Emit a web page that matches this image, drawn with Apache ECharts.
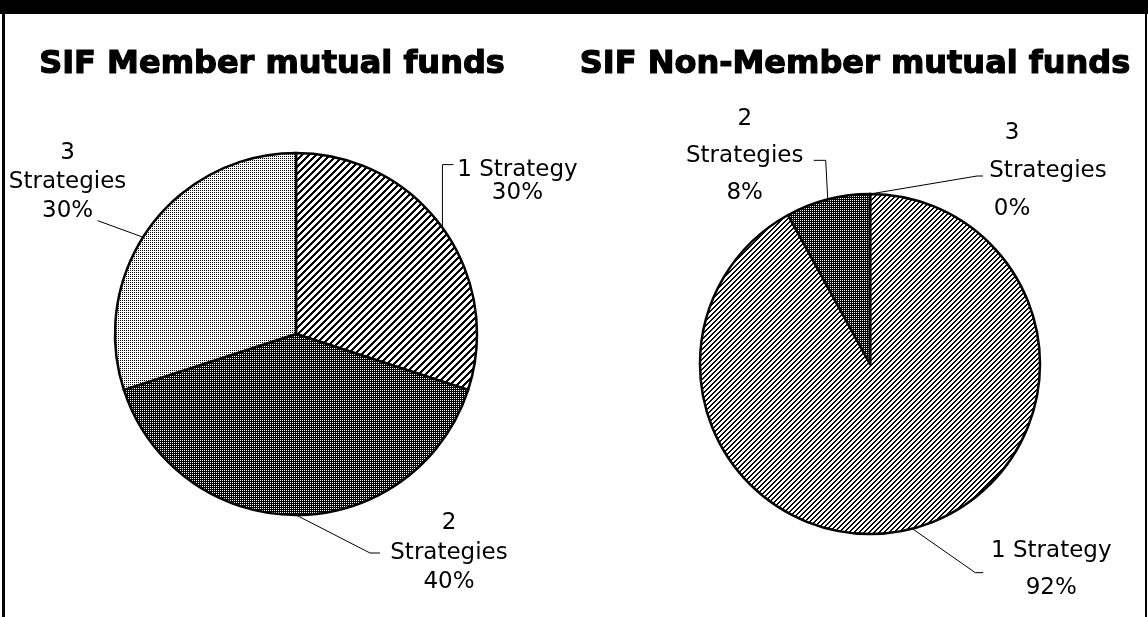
<!DOCTYPE html>
<html><head><meta charset="utf-8">
<script src="https://cdn.jsdelivr.net/npm/echarts@6/dist/echarts.min.js"></script>
<style>html,body{margin:0;padding:0;background:#fff}#c{width:1148px;height:617px}</style>
</head><body><div id="c"></div>
<script>
// ---- data ----
const categories = ['1 Strategy', '2 Strategies', '3 Strategies'];
const labelNames = ['1 Strategy', '2\nStrategies', '3\nStrategies'];
const memberValues = [30, 40, 30];
const nonMemberValues = [92, 8, 0];
const chartTitles = ['SIF Member mutual funds', 'SIF Non-Member mutual funds'];

// ---- patterns ----
function makePattern(size, fn) {
  const c = document.createElement('canvas');
  c.width = size; c.height = size;
  const ctx = c.getContext('2d');
  const img = ctx.createImageData(size, size);
  for (let y = 0; y < size; y++) for (let x = 0; x < size; x++) {
    const v = fn(x, y) ? 0 : 255;
    const i = (y * size + x) * 4;
    img.data[i] = img.data[i + 1] = img.data[i + 2] = v; img.data[i + 3] = 255;
  }
  ctx.putImageData(img, 0, 0);
  return { image: c, repeat: 'repeat' };
}
const hatchA = makePattern(7, (x, y) => ((x + y) % 7) < 3);
const hatchB = makePattern(5, (x, y) => ((x + y) % 5) < 2);
const darkDots = makePattern(4, (x, y) => !((x % 2 === 0 && y % 2 === 0)));
const lightDots = makePattern(4, (x, y) => (x % 2 === 0 && y % 2 === 0));

const FONT = 'DejaVu Sans';
const labelFontSize = 23;

// label placement relative to the slice's outer mid-arc point
const memberSpecs = [
  { dx: 75, dy: -46, align: 'center', lh: 23, line: [[0, -63], [11, -63]] },
  { dx: 153, dy: 38, align: 'center', lh: 29.5, line: [[74, 38], [84, 38]] },
  { dx: -82, dy: -46, align: 'center', lh: 29, line: [[-52, -7], [-52, -7]], start: [0, 12] }
];
const nonMemberSpecs = [
  { dx: 139, dy: 41, align: 'center', lh: 37, line: [[63, 44], [71, 44]] },
  { dx: -83, dy: -43, align: 'center', lh: 37, line: [[-2, -39], [-14, -39]] },
  { dx: 142, dy: -23, align: 'center', lh: 38, midPad: 72, line: [[107, -18], [113, -18]] }
];

function richFor(spec) {
  const base = { fontFamily: FONT, fontSize: labelFontSize, color: '#000', lineHeight: spec.lh };
  return { a: base, b: Object.assign({}, base, { padding: [0, 0, 0, spec.midPad || 0] }) };
}
function buildData(values, specs) {
  return categories.map((c, i) => ({ name: c, value: values[i], label: { rich: richFor(specs[i]) } }));
}
function formatter(p) {
  const parts = labelNames[p.dataIndex].split('\n');
  const pct = Math.round(p.percent) + '%';
  const lines = parts.map((s, k) => (parts.length > 1 && k === 1 ? '{b|' : '{a|') + s + '}');
  lines.push('{a|' + pct + '}');
  return lines.join('\n');
}
function layoutFor(specs) {
  return function (params) {
    const spec = specs[params.dataIndex];
    const pts = params.labelLinePoints;
    if (!pts) return {};
    const a = pts[0];
    const st = spec.start || [0, 0];
    return {
      x: a[0] + spec.dx,
      y: a[1] + spec.dy,
      align: spec.align,
      verticalAlign: 'middle',
      labelLinePoints: [[a[0] + st[0], a[1] + st[1]], [a[0] + spec.line[0][0], a[1] + spec.line[0][1]], [a[0] + spec.line[1][0], a[1] + spec.line[1][1]]]
    };
  };
}
function pieSeries(values, specs, center, radius, colors) {
  return {
    type: 'pie',
    center: center,
    radius: radius,
    startAngle: 90,
    clockwise: true,
    avoidLabelOverlap: false,
    animation: false,
    silent: true,
    data: buildData(values, specs).map((d, i) => Object.assign(d, { itemStyle: { color: colors[i] } })),
    itemStyle: { borderColor: '#000', borderWidth: 2.5 },
    label: { show: true, position: 'outside', formatter: formatter },
    labelLine: { show: true, length: 10, length2: 10, lineStyle: { color: '#000', width: 1 } },
    labelLayout: layoutFor(specs)
  };
}

const titleStyle = { align: 'center', verticalAlign: 'middle', fontFamily: FONT, fontWeight: 'bold', fontSize: 32, fill: '#000', stroke: '#000', lineWidth: 1.2 };
const chart = echarts.init(document.getElementById('c'), null, { renderer: 'canvas' });
chart.setOption({
  backgroundColor: '#fff',
  animation: false,
  graphic: [
    { type: 'rect', shape: { x: 0, y: 0, width: 1148, height: 14 }, style: { fill: '#000' } },
    { type: 'rect', shape: { x: 2, y: 0, width: 3, height: 617 }, style: { fill: '#000' } },
    { type: 'rect', shape: { x: 1145, y: 0, width: 2, height: 617 }, style: { fill: '#000' } },
    { type: 'text', x: 272, y: 65, style: Object.assign({ text: chartTitles[0] }, titleStyle) },
    { type: 'text', x: 855, y: 65, style: Object.assign({ text: chartTitles[1] }, titleStyle) }
  ],
  series: [
    pieSeries(memberValues, memberSpecs, [296, 334], 181, [hatchA, darkDots, lightDots]),
    pieSeries(nonMemberValues, nonMemberSpecs, [870, 364], 170, [hatchB, darkDots, lightDots])
  ]
});
</script>
</body></html>
